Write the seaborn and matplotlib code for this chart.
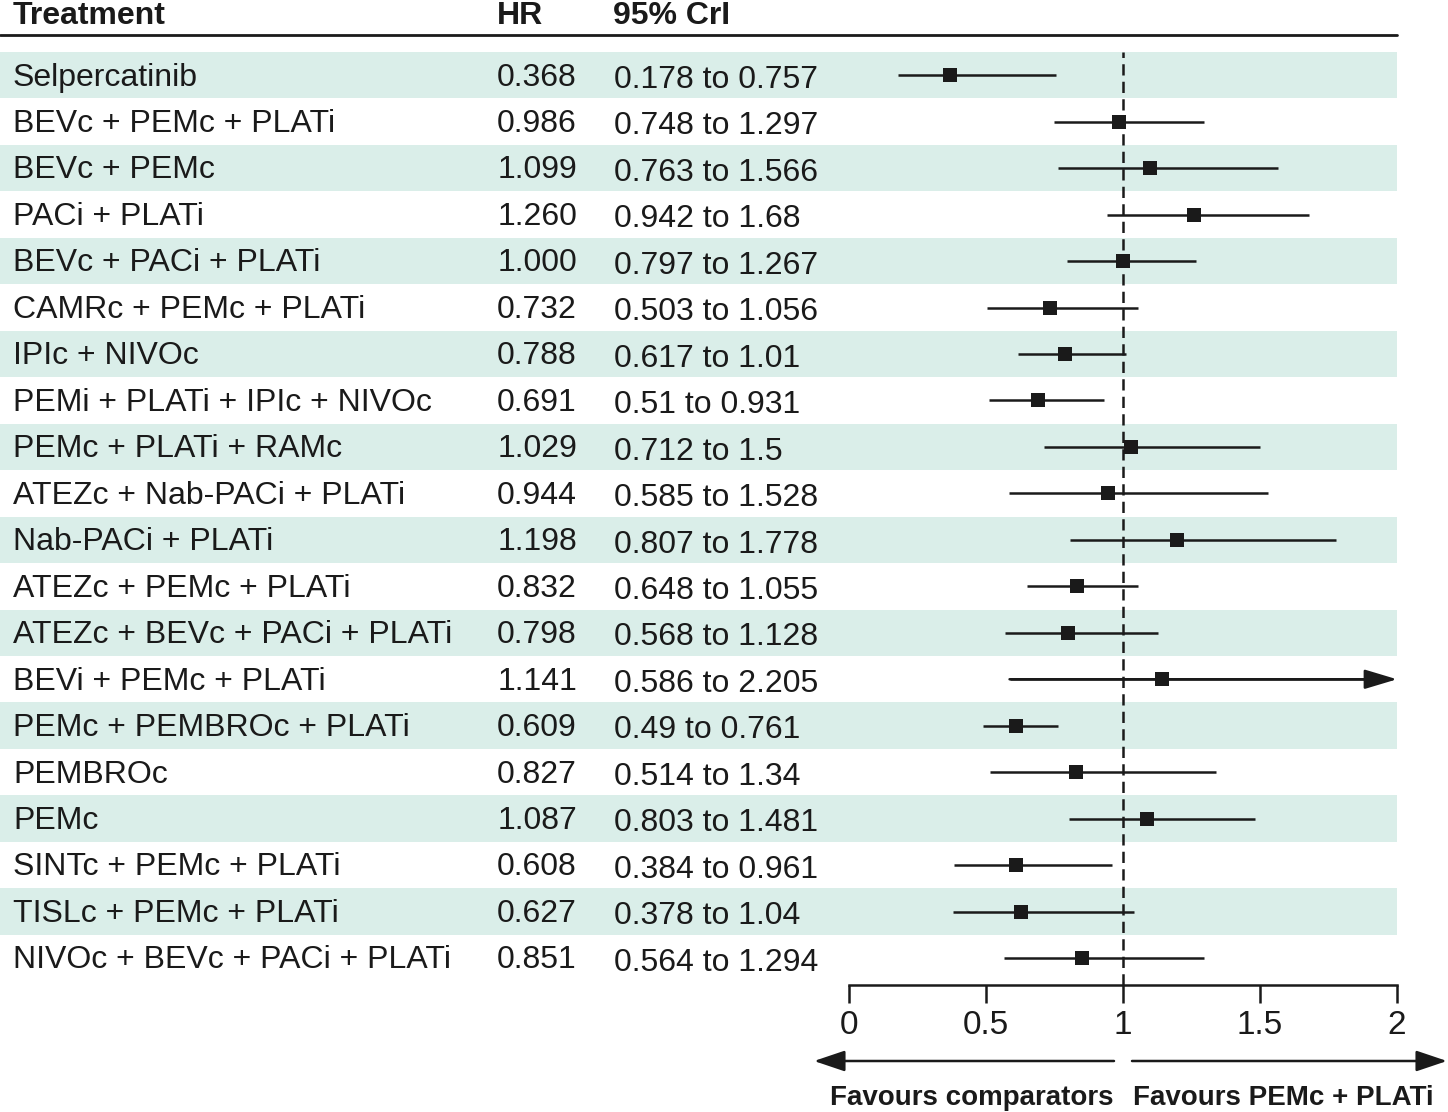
import matplotlib
matplotlib.use("Agg")
import matplotlib.pyplot as plt
import matplotlib.transforms as mtransforms
from matplotlib.patches import Rectangle, FancyArrowPatch
from matplotlib.lines import Line2D
import seaborn as sns
import pandas as pd

treatments = [
    "Selpercatinib", "BEVc + PEMc + PLATi", "BEVc + PEMc", "PACi + PLATi",
    "BEVc + PACi + PLATi", "CAMRc + PEMc + PLATi", "IPIc + NIVOc",
    "PEMi + PLATi + IPIc + NIVOc", "PEMc + PLATi + RAMc",
    "ATEZc + Nab-PACi + PLATi", "Nab-PACi + PLATi", "ATEZc + PEMc + PLATi",
    "ATEZc + BEVc + PACi + PLATi", "BEVi + PEMc + PLATi",
    "PEMc + PEMBROc + PLATi", "PEMBROc", "PEMc", "SINTc + PEMc + PLATi",
    "TISLc + PEMc + PLATi", "NIVOc + BEVc + PACi + PLATi",
]
hr = [0.368, 0.986, 1.099, 1.260, 1.000, 0.732, 0.788, 0.691, 1.029, 0.944,
      1.198, 0.832, 0.798, 1.141, 0.609, 0.827, 1.087, 0.608, 0.627, 0.851]
lower = [0.178, 0.748, 0.763, 0.942, 0.797, 0.503, 0.617, 0.51, 0.712, 0.585,
         0.807, 0.648, 0.568, 0.586, 0.49, 0.514, 0.803, 0.384, 0.378, 0.564]
upper = [0.757, 1.297, 1.566, 1.68, 1.267, 1.056, 1.01, 0.931, 1.5, 1.528,
         1.778, 1.055, 1.128, 2.205, 0.761, 1.34, 1.481, 0.961, 1.04, 1.294]
hr_text = ["0.368", "0.986", "1.099", "1.260", "1.000", "0.732", "0.788", "0.691",
           "1.029", "0.944", "1.198", "0.832", "0.798", "1.141", "0.609", "0.827",
           "1.087", "0.608", "0.627", "0.851"]
cri_text = ["0.178 to 0.757", "0.748 to 1.297", "0.763 to 1.566", "0.942 to 1.68",
            "0.797 to 1.267", "0.503 to 1.056", "0.617 to 1.01", "0.51 to 0.931",
            "0.712 to 1.5", "0.585 to 1.528", "0.807 to 1.778", "0.648 to 1.055",
            "0.568 to 1.128", "0.586 to 2.205", "0.49 to 0.761", "0.514 to 1.34",
            "0.803 to 1.481", "0.384 to 0.961", "0.378 to 1.04", "0.564 to 1.294"]
xticks = [0, 0.5, 1, 1.5, 2]
xtick_labels = ["0", "0.5", "1", "1.5", "2"]
headers = ["Treatment", "HR", "95% CrI"]
favour_left = "Favours comparators"
favour_right = "Favours PEMc + PLATi"

XMAX = 2.0
df = pd.DataFrame({"treatment": treatments, "hr": hr, "lower": lower,
                   "upper": upper, "row": range(len(treatments))})

sns.set_theme(style="white")
plt.rcParams["font.family"] = ["Liberation Sans", "DejaVu Sans"]

W, H = 1448, 1112
fig = plt.figure(figsize=(W / 100, H / 100), dpi=100)

def fx(px):
    return px / W

def fy(py):
    return 1 - py / H

INK = "#1a1a1a"
nrows = len(treatments)
top_row = -0.5
bottom_row = 19.58
ax = fig.add_axes([fx(849), fy(985), fx(1397) - fx(849), fy(52) - fy(985)])
ax.set_xlim(0, XMAX)
ax.set_ylim(bottom_row, top_row)
ax.patch.set_alpha(0)

band_color = "#daeee9"
trans_band = mtransforms.blended_transform_factory(fig.transFigure, ax.transData)
for i in range(0, nrows, 2):
    r = Rectangle((0, i - 0.5), fx(1397), 1.0, transform=trans_band,
                  facecolor=band_color, edgecolor="none", zorder=0, clip_on=False)
    fig.add_artist(r)

# dashed reference line
ax.axvline(1, color=INK, lw=1.8, ls=(0, (4.5, 2.5)), zorder=2)

# CI lines
for _, rw in df.iterrows():
    if rw["upper"] > XMAX:
        ax.hlines(rw["row"], rw["lower"], XMAX - 0.05, color=INK, lw=1.8, zorder=3)
        ax.add_patch(FancyArrowPatch(
            (rw["lower"], rw["row"]), (XMAX, rw["row"]),
            arrowstyle="-|>,head_length=1.0,head_width=0.3", mutation_scale=20,
            color=INK, lw=1.8, shrinkA=0, shrinkB=0, zorder=3, clip_on=False))
    else:
        ax.hlines(rw["row"], rw["lower"], rw["upper"], color=INK, lw=1.8, zorder=3)

sns.scatterplot(data=df, x="hr", y="row", marker="s", s=105, color=INK,
                edgecolor=INK, linewidth=0, ax=ax, zorder=4, legend=False)
ax.set_xlim(0, XMAX)
ax.set_ylim(bottom_row, top_row)

for s in ["top", "right", "left"]:
    ax.spines[s].set_visible(False)
ax.spines["bottom"].set_color(INK)
ax.spines["bottom"].set_linewidth(1.8)
ax.set_yticks([])
ax.set_xticks(xticks)
ax.set_xticklabels(xtick_labels, fontsize=24, color=INK)
ax.tick_params(axis="x", direction="out", length=13, width=1.8, color=INK,
               pad=5, bottom=True)
ax.set_xlabel("")
ax.set_ylabel("")

# text columns
trans_txt = mtransforms.blended_transform_factory(fig.transFigure, ax.transData)
for i in range(nrows):
    ax.text(fx(13), i + 0.05, treatments[i], transform=trans_txt, fontsize=23,
            va="center", ha="left", color=INK)
    ax.text(fx(577), i + 0.05, hr_text[i], transform=trans_txt, fontsize=23,
            va="center", ha="right", color=INK)
    ax.text(fx(614), i + 0.1, cri_text[i], transform=trans_txt, fontsize=23,
            va="center", ha="left", color=INK)

# headers
fig.text(fx(13), fy(16), headers[0], fontsize=23, fontweight="bold",
         ha="left", va="center", color=INK)
fig.text(fx(497), fy(16), headers[1], fontsize=23, fontweight="bold",
         ha="left", va="center", color=INK)
fig.text(fx(613), fy(16), headers[2], fontsize=23, fontweight="bold",
         ha="left", va="center", color=INK)
fig.add_artist(Line2D([fx(0), fx(1397)], [fy(35), fy(35)], color=INK,
                      lw=2, transform=fig.transFigure))

# favour arrows
arrow_kw = dict(arrowstyle="-|>,head_length=0.95,head_width=0.32", color=INK,
                lw=1.8, shrinkA=0, shrinkB=0, mutation_scale=20)
fig.add_artist(FancyArrowPatch(
    (fx(1114), fy(1061)), (fx(814), fy(1061)), transform=fig.transFigure, **arrow_kw))
fig.add_artist(FancyArrowPatch(
    (fx(1132), fy(1061)), (fx(1447), fy(1061)), transform=fig.transFigure, **arrow_kw))
fig.text(fx(1114), fy(1098), favour_left, fontsize=20, fontweight="bold",
         ha="right", va="center", color=INK)
fig.text(fx(1133), fy(1098), favour_right, fontsize=20, fontweight="bold",
         ha="left", va="center", color=INK)

fig.savefig("out.png", dpi=100, facecolor="white")
